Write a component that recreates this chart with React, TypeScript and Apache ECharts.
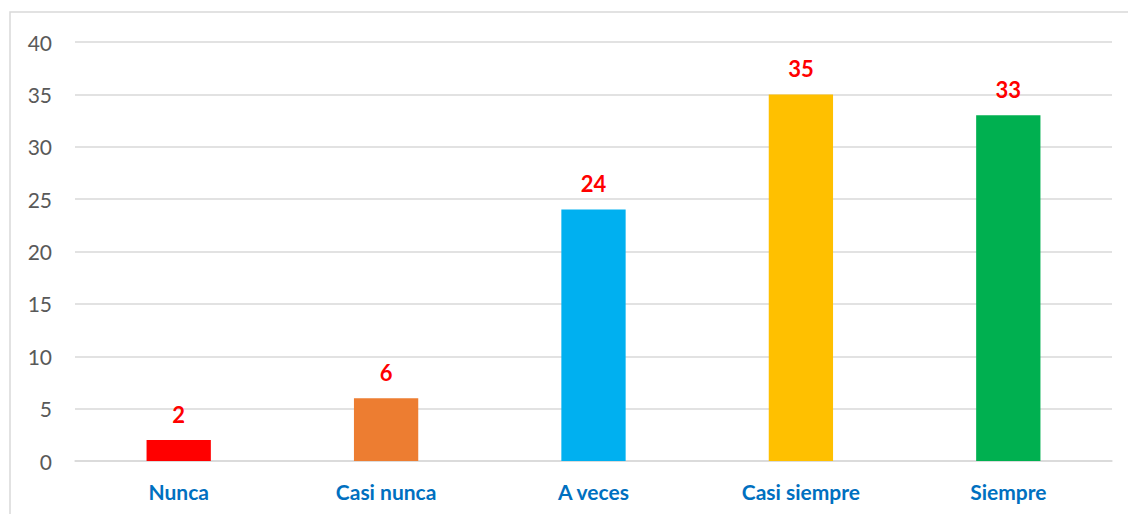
import React, { useEffect, useRef } from "react";
import * as echarts from "echarts";

const categories = ["Nunca", "Casi nunca", "A veces", "Casi siempre", "Siempre"];
const values = [2, 6, 24, 35, 33];
const barColors = ["#FF0000", "#ED7D31", "#00B0F0", "#FFC000", "#00B050"];
const yTicks = { min: 0, max: 40, interval: 5 };

const FONT = "Lato, 'Noto Sans', sans-serif";

export default function App() {
  const ref = useRef<HTMLDivElement>(null);
  useEffect(() => {
    if (!ref.current) return;
    const chart = echarts.init(ref.current, undefined, { renderer: "svg" });
    chart.setOption({
      animation: false,
      backgroundColor: "#FFFFFF",
      graphic: [
        {
          type: "rect",
          shape: { x: 10, y: 12, width: 1130, height: 520 },
          style: { fill: "none", stroke: "#D9D9D9", lineWidth: 1.5 },
          silent: true,
        },
      ],
      grid: { left: 75, right: 16, top: 42, bottom: 53 },
      xAxis: {
        type: "category",
        data: categories,
        axisLine: { show: true, lineStyle: { color: "#D9D9D9", width: 1.5 } },
        axisTick: { show: false },
        axisLabel: {
          color: "#0070C0",
          fontWeight: "bold",
          fontSize: 21,
          fontFamily: FONT,
          margin: 20,
        },
      },
      yAxis: {
        type: "value",
        min: yTicks.min,
        max: yTicks.max,
        interval: yTicks.interval,
        axisLine: { show: false },
        axisTick: { show: false },
        splitLine: { lineStyle: { color: "#D9D9D9", width: 1.5 } },
        axisLabel: {
          color: "#595959",
          fontSize: 21,
          fontFamily: FONT,
          margin: 23,
        },
      },
      series: [
        {
          type: "bar",
          data: values.map((v, i) => ({ value: v, itemStyle: { color: barColors[i] } })),
          barWidth: "31%",
          label: {
            show: true,
            position: "top",
            distance: 15,
            color: "#FF0000",
            fontWeight: "bold",
            fontSize: 22,
            fontFamily: FONT,
          },
        },
      ],
    });
    return () => chart.dispose();
  }, []);
  return (
    <div
      ref={ref}
      style={{ position: "absolute", left: 0, top: 0, width: 1128, height: 514 }}
    />
  );
}
